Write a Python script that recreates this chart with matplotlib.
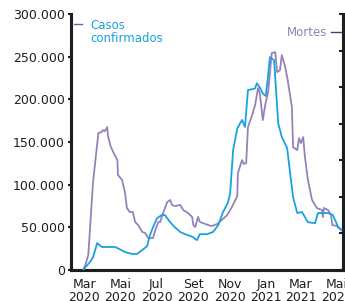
import matplotlib

matplotlib.use("Agg")
import matplotlib.pyplot as plt
import pandas as pd

# casos confirmados (média móvel), eixo da esquerda
datas_casos = [
    "2020-02-28", "2020-03-11", "2020-03-16", "2020-03-23", "2020-03-31", "2020-04-22",
    "2020-04-26", "2020-05-09", "2020-05-21", "2020-05-29", "2020-06-07", "2020-06-15",
    "2020-06-20", "2020-06-25", "2020-07-02", "2020-07-10", "2020-07-15", "2020-07-24",
    "2020-08-01", "2020-08-10", "2020-08-18", "2020-08-31", "2020-09-07", "2020-09-12",
    "2020-09-24", "2020-10-04", "2020-10-13", "2020-10-21", "2020-10-29", "2020-11-02",
    "2020-11-07", "2020-11-14", "2020-11-22", "2020-11-27", "2020-12-02", "2020-12-09",
    "2020-12-14", "2020-12-17", "2020-12-22", "2020-12-27", "2021-01-01", "2021-01-05",
    "2021-01-08", "2021-01-15", "2021-01-22", "2021-01-28", "2021-02-06", "2021-02-11",
    "2021-02-16", "2021-02-23", "2021-03-03", "2021-03-13", "2021-03-25", "2021-03-30",
    "2021-04-06", "2021-04-16", "2021-04-24", "2021-05-03", "2021-05-09",
]
casos = [
    0, 9400, 15000, 31600, 27000, 27000,
    25800, 21000, 18800, 18800, 23400, 28000,
    41000, 50000, 61000, 64500, 64500, 56000,
    50000, 44500, 42000, 38700, 35000, 42000,
    42000, 44500, 52700, 68000, 78500, 90000,
    140600, 166000, 176000, 167600, 211000, 212000,
    213000, 219000, 214000, 207000, 204000, 228500,
    249600, 246000, 172000, 156000, 143000, 113700,
    85500, 66800, 68000, 56000, 55000, 66800,
    66800, 66800, 64500, 50400, 46900,
]

# mortes (média móvel), eixo da direita
datas_mortes = [
    "2020-02-28", "2020-03-03", "2020-03-08", "2020-03-16", "2020-03-25", "2020-03-30",
    "2020-04-02", "2020-04-05", "2020-04-09", "2020-04-10", "2020-04-14", "2020-04-19",
    "2020-04-26", "2020-04-27", "2020-05-04", "2020-05-09", "2020-05-12", "2020-05-17",
    "2020-05-22", "2020-05-26", "2020-05-31", "2020-06-07", "2020-06-12", "2020-06-17",
    "2020-06-25", "2020-06-29", "2020-07-04", "2020-07-07", "2020-07-12", "2020-07-19",
    "2020-07-24", "2020-07-27", "2020-08-01", "2020-08-10", "2020-08-15", "2020-08-23",
    "2020-08-30", "2020-09-01", "2020-09-04", "2020-09-09", "2020-09-12", "2020-09-17",
    "2020-09-26", "2020-10-02", "2020-10-11", "2020-10-19", "2020-10-28", "2020-11-05",
    "2020-11-14", "2020-11-15", "2020-11-22", "2020-11-25", "2020-11-29", "2020-12-02",
    "2020-12-09", "2020-12-14", "2020-12-19", "2020-12-22", "2020-12-27", "2020-12-31",
    "2021-01-05", "2021-01-08", "2021-01-11", "2021-01-17", "2021-01-20", "2021-01-25",
    "2021-01-28", "2021-02-02", "2021-02-07", "2021-02-14", "2021-02-16", "2021-02-23",
    "2021-02-26", "2021-03-01", "2021-03-05", "2021-03-08", "2021-03-13", "2021-03-20",
    "2021-03-28", "2021-04-06", "2021-04-07", "2021-04-09", "2021-04-16", "2021-04-21",
    "2021-04-23", "2021-05-01", "2021-05-08",
]
mortes = [
    0, 68, 205, 1203, 1873, 1886,
    1914, 1900, 1955, 1845, 1709, 1613,
    1504, 1299, 1230, 1053, 848, 793,
    793, 656, 615, 520, 506, 437,
    437, 547, 656, 656, 779, 930,
    957, 889, 875, 889, 820, 779,
    725, 615, 588, 725, 656, 642,
    615, 601, 629, 684, 752, 861,
    1012, 1326, 1504, 1449, 1463, 1955,
    2119, 2256, 2488, 2420, 2051, 2256,
    2433, 2693, 2966, 2980, 2707, 2734,
    2939, 2802, 2597, 2228, 1681, 1640,
    1804, 1736, 1818, 1545, 1230, 957,
    848, 820, 725, 848, 820, 752,
    615, 601, 547,
]

meses = ["Jan", "Fev", "Mar", "Abr", "Mai", "Jun", "Jul", "Ago", "Set", "Out", "Nov", "Dez"]
AZUL = "#1aa1df"
ROXO = "#9682b9"
ESCURO = "#1e1e1e"

plt.rcParams["font.family"] = "DejaVu Sans"

fig = plt.figure(figsize=(3.45, 3.01), dpi=100)
ax = fig.add_axes([0.206, 0.103, 0.788, 0.850])
ax2 = ax.twinx()

ax.plot(pd.to_datetime(datas_casos), casos, color=AZUL, lw=1.3, zorder=3)
ax2.plot(pd.to_datetime(datas_mortes), mortes, color=ROXO, lw=1.3)
# casos por cima das mortes
ax.set_zorder(ax2.get_zorder() + 1)
ax.patch.set_visible(False)

ax.set_xlim(pd.Timestamp("2020-02-08"), pd.Timestamp("2021-05-11"))
ax.set_ylim(0, 300000)
ax2.set_ylim(0, 3500)

ax.set_yticks(range(0, 300001, 50000))
ax.set_yticklabels([f"{v:,}".replace(",", ".") for v in range(0, 300001, 50000)])
ax2.set_yticks(range(0, 3501, 500))
ax2.set_yticklabels([])

ticks = pd.date_range("2020-03-01", "2021-05-01", freq="2MS")
ax.set_xticks(ticks)
ax.set_xticklabels([f"{meses[t.month - 1]}\n{t.year}" for t in ticks], linespacing=1.0)

for a in (ax, ax2):
    a.spines["top"].set_visible(False)
    for s in ("left", "right", "bottom"):
        a.spines[s].set_linewidth(2.2)
        a.spines[s].set_color(ESCURO)

ax.tick_params(axis="y", length=2.5, width=1.5, color=ESCURO, labelsize=9,
               labelcolor=ESCURO, pad=2)
ax.tick_params(axis="x", length=0, labelsize=9, labelcolor=ESCURO, pad=6)
ax2.tick_params(axis="y", direction="in", length=3, width=1.5, color=ESCURO)

# rótulos das séries
ax.plot([0.01, 0.04], [0.961, 0.961], transform=ax.transAxes, color="#4f74a8", lw=1.0,
        clip_on=False)
ax.text(0.07, 0.982, "Casos\nconfirmados", transform=ax.transAxes, color=AZUL,
        fontsize=8.5, va="top", ha="left", linespacing=1.05)
ax.plot([0.956, 0.993], [0.93, 0.93], transform=ax.transAxes, color="#2c4a7a", lw=1.0,
        clip_on=False)
ax.text(0.941, 0.93, "Mortes", transform=ax.transAxes, color=ROXO,
        fontsize=8.5, va="center", ha="right")

fig.savefig("out.png", dpi=100)
plt.close(fig)
